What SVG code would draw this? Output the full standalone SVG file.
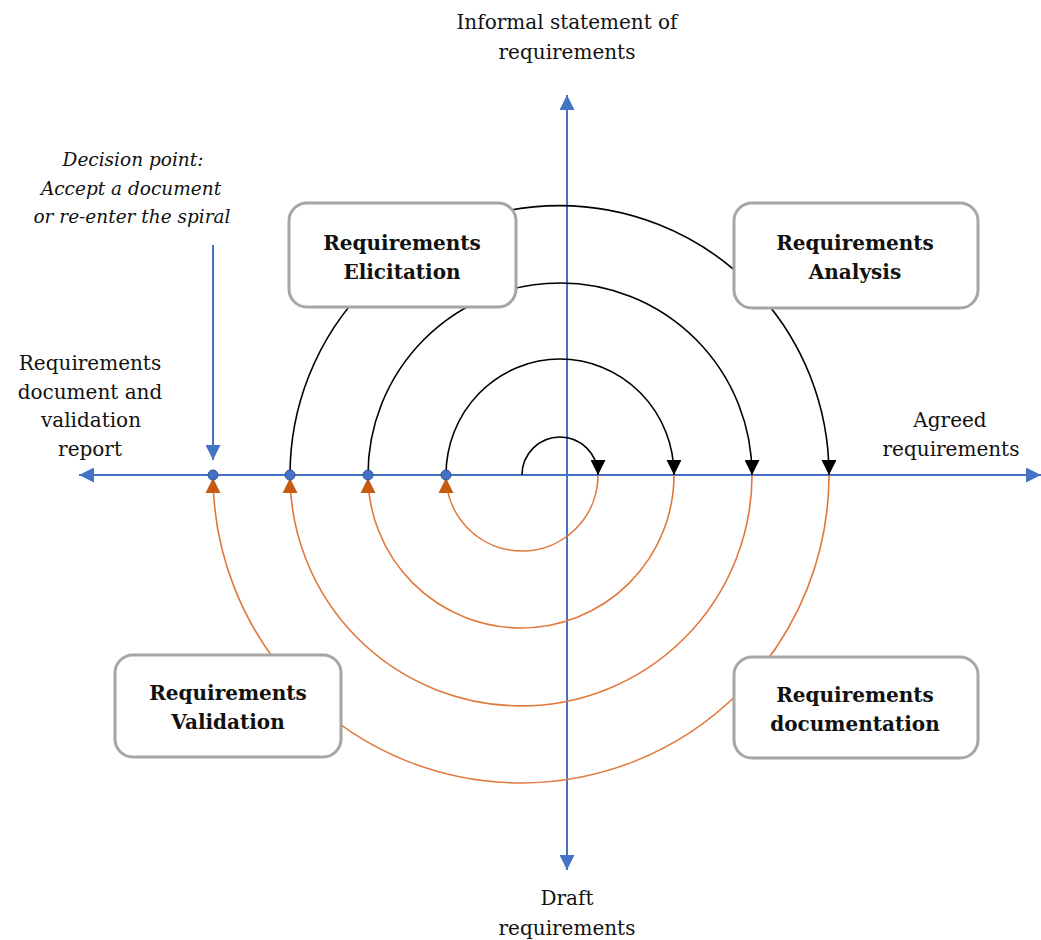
<svg xmlns="http://www.w3.org/2000/svg" width="1041" height="940" viewBox="0 0 1041 940">
  <style>
    .lbl { font-family: "DejaVu Serif", "Liberation Serif", serif; font-size: 20px; fill: #111; text-anchor: middle; }
    .note { font-family: "DejaVu Serif", "Liberation Serif", serif; font-size: 18.5px; font-style: italic; fill: #111; text-anchor: middle; }
    .title { font-family: "DejaVu Serif", "Liberation Serif", serif; font-size: 20px; font-weight: bold; fill: #111; text-anchor: middle; }
    .box { fill: #ffffff; stroke: #a6a6a6; stroke-width: 3; }
    .axis { stroke: #4472c4; stroke-width: 2; fill: none; }
    .fwd { stroke: #000; stroke-width: 1.6; fill: none; marker-end: url(#headBlack); }
    .back { stroke: #e0783a; stroke-width: 1.6; fill: none; marker-end: url(#headOrange); }
    .dot { fill: #4472c4; stroke: #2f5597; stroke-width: 1; }
  </style>
  <defs>
    <marker id="headBlue" viewBox="0 0 10 10" refX="10" refY="5" markerUnits="userSpaceOnUse" markerWidth="15" markerHeight="15" orient="auto">
      <path d="M0,0 L10,5 L0,10 z" fill="#4472c4"/>
    </marker>
    <marker id="headBlack" viewBox="0 0 10 10" refX="10" refY="5" markerUnits="userSpaceOnUse" markerWidth="15" markerHeight="15" orient="auto">
      <path d="M0,0 L10,5 L0,10 z" fill="#000"/>
    </marker>
    <marker id="headOrange" viewBox="0 0 10 10" refX="12" refY="5" markerUnits="userSpaceOnUse" markerWidth="15" markerHeight="16" orient="auto">
      <path d="M0,0 L10,5 L0,10 z" fill="#c55a11"/>
    </marker>
  </defs>

  <rect width="1041" height="940" fill="#ffffff"/>

  <!-- connectors: axes, spiral arcs and the decision pointer -->
  <g id="connectors">
    <line class="axis" x1="567" y1="475" x2="79" y2="475" marker-end="url(#headBlue)"/>
    <line class="axis" x1="567" y1="475" x2="1041" y2="475" marker-end="url(#headBlue)"/>
    <line class="axis" x1="567" y1="475" x2="567" y2="95" marker-end="url(#headBlue)"/>
    <line class="axis" x1="567" y1="475" x2="567" y2="870" marker-end="url(#headBlue)"/>
    <line class="axis" x1="213" y1="245" x2="213" y2="460" marker-end="url(#headBlue)"/>

    <!-- upper half-turns (forward) -->
    <path class="fwd" d="M522,475 A38,38 0 0 1 598,475"/>
    <path class="fwd" d="M446,475 A114,116 0 0 1 674,475"/>
    <path class="fwd" d="M368,475 A192,192 0 0 1 752,475"/>
    <path class="fwd" d="M290,475 A269.5,269.5 0 0 1 829,475"/>

    <!-- lower half-turns (return) -->
    <path class="back" d="M598,475 A76,76 0 0 1 446,475"/>
    <path class="back" d="M674,475 A153,153 0 0 1 368,475"/>
    <path class="back" d="M752,475 A231,231 0 0 1 290,475"/>
    <path class="back" d="M829,475 A308,308 0 0 1 213,475"/>

    <circle class="dot" cx="213" cy="475" r="5"/>
    <circle class="dot" cx="290" cy="475" r="5"/>
    <circle class="dot" cx="368" cy="475" r="5"/>
    <circle class="dot" cx="446" cy="475" r="5"/>
  </g>

  <g id="elicitation">
    <rect class="box" x="289" y="203" width="227" height="104" rx="18"/>
    <text class="title" x="402" y="250">Requirements</text>
    <text class="title" x="402" y="279">Elicitation</text>
  </g>

  <g id="analysis">
    <rect class="box" x="734" y="203" width="244" height="105" rx="18"/>
    <text class="title" x="855" y="250">Requirements</text>
    <text class="title" x="855" y="279">Analysis</text>
  </g>

  <g id="validation">
    <rect class="box" x="115" y="655" width="226" height="102" rx="18"/>
    <text class="title" x="228" y="700">Requirements</text>
    <text class="title" x="228" y="729">Validation</text>
  </g>

  <g id="documentation">
    <rect class="box" x="734" y="657" width="244" height="101" rx="18"/>
    <text class="title" x="855" y="702">Requirements</text>
    <text class="title" x="855" y="731">documentation</text>
  </g>

  <g id="informal-statement">
    <text class="lbl" x="567" y="29">Informal statement of</text>
    <text class="lbl" x="567" y="59">requirements</text>
  </g>

  <g id="draft-requirements">
    <text class="lbl" x="567" y="905">Draft</text>
    <text class="lbl" x="567" y="935">requirements</text>
  </g>

  <g id="agreed-requirements">
    <text class="lbl" x="950" y="427">Agreed</text>
    <text class="lbl" x="951" y="456">requirements</text>
  </g>

  <g id="document-and-report">
    <text class="lbl" x="90" y="370">Requirements</text>
    <text class="lbl" x="90" y="398.5">document and</text>
    <text class="lbl" x="91" y="427">validation</text>
    <text class="lbl" x="90" y="455.5">report</text>
  </g>

  <g id="decision-point">
    <text class="note" x="133" y="166">Decision point:</text>
    <text class="note" x="131" y="194.5">Accept a document</text>
    <text class="note" x="132" y="223">or re-enter the spiral</text>
  </g>
</svg>
